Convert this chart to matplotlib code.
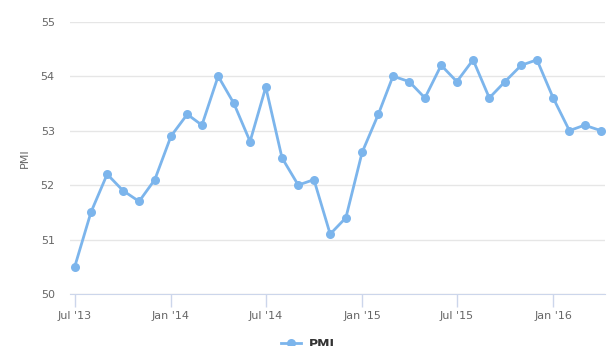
import numpy as np
import pandas as pd
import matplotlib
matplotlib.use('Agg')
import matplotlib.pyplot as plt

# Monthly PMI, Jul 2013 - Apr 2016
months = pd.date_range('2013-07-01', '2016-04-01', freq='MS')
pmi = [50.5, 51.5, 52.2, 51.9, 51.7, 52.1, 52.9, 53.3, 53.1, 54.0, 53.5, 52.8,
       53.8, 52.5, 52.0, 52.1, 51.1, 51.4, 52.6, 53.3, 54.0, 53.9, 53.6, 54.2,
       53.9, 54.3, 53.6, 53.9, 54.2, 54.3, 53.6, 53.0, 53.1, 53.0]
tick_dates = pd.to_datetime(['2013-07-01', '2014-01-01', '2014-07-01',
                             '2015-01-01', '2015-07-01', '2016-01-01'])
tick_labels = ["Jul '13", "Jan '14", "Jul '14", "Jan '15", "Jul '15", "Jan '16"]
y_ticks = [50, 51, 52, 53, 54, 55]

plt.rcParams['font.family'] = ['DejaVu Sans']

fig = plt.figure(figsize=(6.16, 3.46), dpi=100)
ax = fig.add_axes([70 / 616, 1 - 294 / 346, 535 / 616, (294 - 21.7) / 346])

line_color = '#7cb5ec'
ax.plot(months, pmi, color=line_color, lw=2, marker='o', ms=6.5,
        markeredgewidth=0, label='PMI', zorder=3, clip_on=False)

ax.set_ylim(50, 55)
ax.set_yticks(y_ticks)
ax.set_yticklabels([str(v) for v in y_ticks], color='#666666', fontsize=8)
ax.tick_params(axis='y', length=0, pad=11)

# axis spans ~1022 days, starting 9 days before the first point
x_lo = months[0] - pd.Timedelta(days=9)
x_hi = x_lo + pd.Timedelta(days=1022)
ax.set_xlim(x_lo, x_hi)
ax.set_xticks(tick_dates)
ax.set_xticklabels(tick_labels, color='#666666', fontsize=8)
ax.tick_params(axis='x', length=9, width=1, color='#ccd6eb', pad=3)

ax.grid(axis='y', color='#e6e6e6', lw=1)
ax.set_axisbelow(True)
for s in ['top', 'right', 'left']:
    ax.spines[s].set_visible(False)
ax.spines['bottom'].set_color('#ccd6eb')
ax.spines['bottom'].set_zorder(0)

ax.set_ylabel('PMI', color='#666666', fontsize=8, labelpad=8)

fig.legend(loc='center', bbox_to_anchor=(0.5, 0.005), frameon=False,
           prop={'size': 9, 'weight': 'bold'}, labelcolor='#333333',
           handlelength=1.6, handletextpad=0.6)

fig.savefig('out.png', dpi=100)
